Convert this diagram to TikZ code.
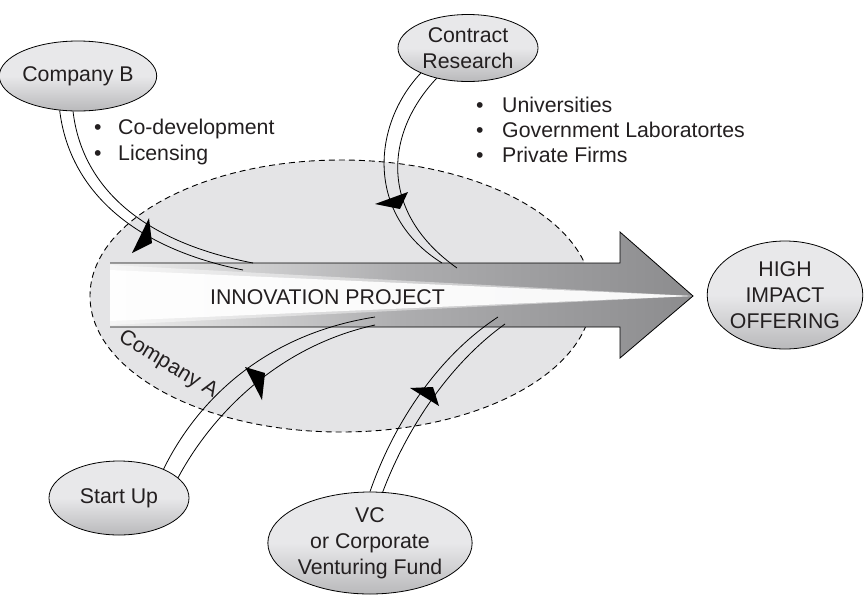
\documentclass[tikz,border=0pt]{standalone}
\usepackage{fontspec}
\setmainfont{Liberation Sans}
\usetikzlibrary{shapes.geometric}

\definecolor{blobfill}{HTML}{E4E4E6}
\definecolor{nodetop}{HTML}{E8E8EA}
\definecolor{nodebot}{HTML}{B9B9BB}
\definecolor{shaftlight}{HTML}{F0F0F0}
\definecolor{shaftmid}{HTML}{ADADAF}
\definecolor{shaftdark}{HTML}{8C8C8E}
\definecolor{ink}{HTML}{231F20}

\newcommand\lbl{\fontsize{21.3}{26}\selectfont}

\begin{document}
\begin{tikzpicture}[x=1pt,y=-1pt,
  org/.style={ellipse, draw=black, line width=0.8pt, inner sep=0pt, align=center,
    top color=nodetop, bottom color=nodebot, middle color=nodetop, font=\lbl, text=ink},
  lbltext/.style={font=\lbl, text=ink, inner sep=0pt},
  listitem/.style={lbltext, anchor=base west},
  feed/.style={draw=black, line width=0.8pt},
  barb/.style={fill=black},
  outline/.style={draw=black, line width=0.8pt}]
\useasboundingbox (0,0) rectangle (864,595);

% Company A: dashed organisation boundary
\draw[dash pattern=on 6pt off 4pt, line width=0.9pt, fill=blobfill]
  (341,296) ellipse [x radius=251, y radius=136];

% Innovation project arrow
\path[left color=shaftlight, right color=shaftdark, middle color=shaftmid]
  (110,263) -- (620,263) -- (620,232) -- (693,296) -- (620,358) -- (620,327) -- (110,327) -- cycle;
\fill[white, opacity=0.45] (110,265) -- (693,296) -- (110,325) -- cycle;
\fill[white, opacity=0.9] (110,270) -- (693,296) -- (110,321) -- cycle;
\draw[outline] (110,263) -- (620,263) -- (620,232) -- (693,296) -- (620,358) -- (620,327) -- (110,327);

\node[lbltext, anchor=base] (proj) at (327.5,304) {INNOVATION PROJECT};
\node[lbltext, rotate=-31] (compA) at (168,365) {Company A};

% Partner organisations
\node[org, minimum width=140pt, minimum height=70pt]  (compB)    at (78,76)   {Company B};
\node[org, minimum width=140pt, minimum height=67pt]  (contract) at (468,48)  {Contract\\Research};
\node[org, minimum width=152pt, minimum height=108pt] (offer)    at (785,295) {HIGH\\IMPACT\\OFFERING};
\node[org, minimum width=140pt, minimum height=74pt]  (startup)  at (119,498) {Start Up};
\node[org, minimum width=204pt, minimum height=102pt] (vc)       at (370,543) {VC\\or Corporate\\Venturing Fund};

% Collaboration modes
\node[listitem] (codev) at (94,134)  {\makebox[24pt][l]{•}Co-development};
\node[listitem] (lic)   at (94,160)  {\makebox[24pt][l]{•}Licensing};
\node[listitem] (univ)  at (476,112) {\makebox[26pt][l]{•}Universities};
\node[listitem] (gov)   at (476,137) {\makebox[26pt][l]{•}Government Laboratortes};
\node[listitem] (priv)  at (476,162) {\makebox[26pt][l]{•}Private Firms};

% Channel ends inside the project
\coordinate (bL) at (243,270);
\coordinate (bR) at (253,263);
\coordinate (cL) at (442,263);
\coordinate (cR) at (457,268);
\coordinate (sL) at (375,317);
\coordinate (sR) at (375,325);
\coordinate (vL) at (498,317);
\coordinate (vR) at (505,324);

% Twin-line channels into the project
\draw[feed] (compB.242) .. controls (68,180) and (120,245) .. (bL);
\draw[feed] (compB.262) .. controls (81,180) and (133,240) .. (bR);
\draw[feed] (contract.208) .. controls (372,125) and (365,215) .. (cL);
\draw[feed] (contract.224) .. controls (385,133) and (378,212) .. (cR);
\draw[feed] (startup.33) .. controls (195,405) and (260,335) .. (sL);
\draw[feed] (startup.19.6) .. controls (210,418) and (275,347) .. (sR);
\draw[feed] (vc.90) .. controls (395,420) and (440,355) .. (vL);
\draw[feed] (vc.76) .. controls (408,425) and (452,362) .. (vR);

% Barbs on the channels
\fill[barb] (149,218) -- (132,253) -- (152,243) -- cycle;
\fill[barb] (375,204) -- (408,192) -- (400,209) -- cycle;
\fill[barb] (245,367) -- (265,373) -- (262,400) -- cycle;
\fill[barb] (410,388) -- (433,387) -- (439,406) -- cycle;
\end{tikzpicture}
\end{document}
